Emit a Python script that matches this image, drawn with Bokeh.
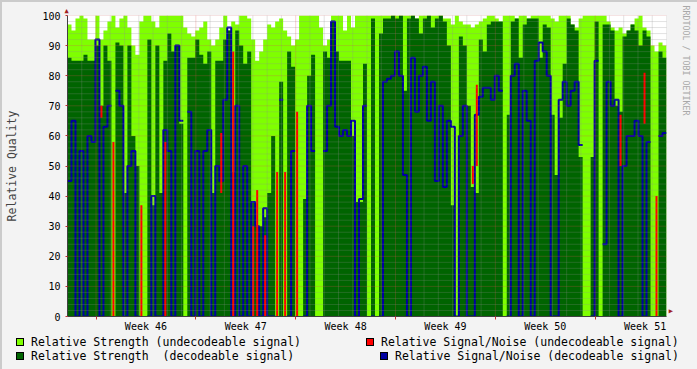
import numpy as np
from bokeh.plotting import figure
from bokeh.models import Range1d, FixedTicker, Title, Div
from bokeh.layouts import column
from bokeh.embed import file_html
from bokeh.resources import INLINE

# ---------------- data (one value per time step) -------------
strength_undecodeable = [
    97, 95, 99, 100, 99, 92, 92, 100, 92, 95, 98, 100, 96, 99, 100, 96, 90, 87, 98, 100, 100, 98, 96, 100, 100,
    100, 100, 100, 100, 96, 94, 93, 95, 96, 98, 92, 90, 92, 96, 100, 95, 98, 97, 100, 100, 99, 92, 85, 88, 92,
    97, 96, 98, 99, 95, 93, 90, 92, 100, 100, 100, 100, 100, 96, 90, 92, 100, 100, 100, 95, 100, 96, 100, 100, 100,
    100, 100, 100, 100, 100, 100, 100, 100, 100, 100, 100, 100, 99, 100, 100, 100, 100, 100, 100, 99, 99, 97, 100, 98, 97,
    97, 96, 97, 98, 99, 100, 100, 99, 98, 100, 100, 100, 99, 100, 100, 99, 100, 100, 100, 100, 100, 99, 98, 100, 100,
    100, 97, 96, 99, 100, 100, 100, 100, 100, 100, 98, 96, 95, 96, 94, 95, 97, 99, 100, 96, 95, 90, 88, 91, 90,
]
strength_decodeable = [
    86, 85, 85, 85, 87, 85, 85, 90, 70, 90, 85, 0, 91, 90, 41, 90, 60, 50, 0, 0, 92, 37, 90, 41, 85,
    94, 88, 90, 64, 0, 86, 86, 92, 87, 84, 88, 41, 85, 85, 92, 95, 48, 95, 90, 84, 88, 38, 30, 30, 33,
    41, 60, 0, 78, 0, 88, 83, 0, 0, 39, 80, 87, 0, 0, 88, 86, 98, 88, 85, 85, 85, 60, 38, 38, 84,
    0, 99, 0, 94, 99, 99, 100, 99, 100, 75, 99, 100, 99, 94, 99, 100, 96, 99, 100, 98, 90, 37, 0, 93, 90,
    70, 43, 41, 92, 88, 97, 98, 98, 98, 0, 67, 98, 99, 86, 97, 99, 99, 99, 86, 97, 96, 67, 47, 66, 84,
    99, 97, 95, 53, 0, 0, 53, 98, 0, 97, 97, 95, 70, 68, 93, 95, 97, 95, 90, 95, 93, 0, 0, 88, 86,
]
snr_decodeable = [
    45, 65, 0, 55, 0, 60, 58, 92, 0, 63, 70, None, 75, 70, 0, 50, 55, 0, None, None, 0, 40, 0, 0, 62,
    55, 0, 90, 65, None, 68, 0, 55, 0, 55, 62, 0, 50, 45, 72, 96, 0, 70, 0, 50, 0, 38, 30, 0, 36,
    0, 0, None, 72, None, 0, 55, None, None, 0, 70, 55, None, None, 55, 70, 98, 63, 60, 62, 60, 65, 0, 39, 70,
    None, 0, None, 0, 78, 79, 80, 88, 80, 47, 0, 86, 68, 80, 83, 65, 78, 45, 70, 43, 65, 63, 0, 60, 70,
    0, 0, 67, 73, 76, 76, 72, 80, 75, None, 0, 80, 84, 0, 75, 65, 0, 85, 91, 88, 80, 0, 0, 72, 78,
    70, 75, 78, 57, None, None, 0, 85, None, 24, 78, 70, 72, 0, 50, 60, 60, 65, 60, 0, 58, None, None, 60, 61,
]
snr_undec_step = [8, 11, 18, 24, 38, 41, 46, 47, 49, 52, 54, 57, 101, 102, 138, 144, 147]
snr_undec_high = [70, 58, 37, 58, 61, 88, 30, 42, 27, 48, 48, 68, 50, 77, 67, 81, 40]
snr_undec_low = [66, 0, 0, 0, 41, 0, 0, 0, 0, 0, 0, 0, 44, 50, 50, 64, 0]

week_labels = ["Week 46", "Week 47", "Week 48", "Week 49", "Week 50", "Week 51"]
week_start_day = [2, 9, 16, 23, 30, 37]
span_days = 42
y_ticks = [0, 10, 20, 30, 40, 50, 60, 70, 80, 90, 100]
legend_labels = ["Relative Strength (undecodeable signal)", "Relative Strength  (decodeable signal)",
                 "Relative Signal/Noise (undecodeable signal)", "Relative Signal/Noise (decodeable signal)"]

# ---------------- styling ----------------
MONO = "DejaVu Sans Mono"
LIME = "#7fff00"
DGREEN = "#006400"
RED = "#ff0000"
BLUE = "#0000a0"
BACK = "#f3f3f3"
FIG_W, FIG_H = 693, 334

N = len(strength_decodeable)
step = span_days / N
edges = np.arange(N + 1) * step
centers = (np.arange(N) + 0.5) * step

p = figure(width=FIG_W, height=FIG_H, x_range=Range1d(0, span_days), y_range=Range1d(0, 100),
           output_backend="svg", toolbar_location=None,
           min_border_left=65, min_border_right=28, min_border_top=13, min_border_bottom=20,
           background_fill_color="white", border_fill_color=BACK, outline_line_color=None)
p.grid.visible = False

xa = np.repeat(edges, 2)[1:-1]
p.varea(x=xa, y1=0, y2=np.repeat(np.array(strength_undecodeable, float), 2), fill_color=LIME)
p.varea(x=xa, y1=0, y2=np.repeat(np.array(strength_decodeable, float), 2), fill_color=DGREEN)

bx, by, cx, cy = [], [], [], []
for i, v in enumerate(snr_decodeable):
    if v is None:
        if cx:
            bx.append(cx); by.append(cy); cx, cy = [], []
        continue
    cx += [edges[i], edges[i + 1]]
    cy += [v, v]
if cx:
    bx.append(cx); by.append(cy)
p.multi_line(xs=bx, ys=by, line_color=BLUE, line_width=2)

rx = [centers[i] for i in snr_undec_step]
p.segment(x0=rx, y0=snr_undec_low, x1=rx, y1=snr_undec_high, line_color=RED, line_width=2)

# grid drawn over the data
days = [d for d in range(span_days + 1) if d not in week_start_day]
minor_y = [v for v in range(0, 101, 2) if v not in y_ticks]
p.segment(x0=days, y0=0, x1=days, y1=100, line_color="#909090", line_alpha=0.5, line_dash="1 1")
p.segment(x0=0, y0=minor_y, x1=span_days, y1=minor_y, line_color="#909090", line_alpha=0.5, line_dash="1 1")
p.segment(x0=week_start_day, y0=0, x1=week_start_day, y1=100, line_color="#e05050", line_alpha=0.5,
          line_dash="1 1")
p.segment(x0=0, y0=y_ticks, x1=span_days, y1=y_ticks, line_color="#e05050", line_alpha=0.5, line_dash="1 1")

xa_ = p.xaxis[0]
xa_.ticker = FixedTicker(ticks=[d + 3.5 for d in week_start_day], minor_ticks=week_start_day)
xa_.major_label_overrides = {d + 3.5: lab for d, lab in zip(week_start_day, week_labels)}
xa_.major_tick_line_color = None
xa_.major_tick_out = 0
xa_.major_tick_in = 0
xa_.minor_tick_line_color = "#c83030"
xa_.minor_tick_out = 3
xa_.minor_tick_in = 0
xa_.major_label_standoff = 1
ya_ = p.yaxis[0]
ya_.ticker = FixedTicker(ticks=y_ticks)
ya_.major_tick_line_color = "#c83030"
ya_.major_tick_out = 2
ya_.major_tick_in = 0
ya_.minor_tick_line_color = None
ya_.major_label_standoff = 5
ya_.axis_label = "Relative Quality"
ya_.axis_label_standoff = 20
ya_.axis_label_text_font_style = "normal"
ya_.axis_label_text_font_size = "11.5px"
ya_.axis_label_text_font = MONO
for ax in (xa_, ya_):
    ax.axis_line_color = "#404040"
    ax.major_label_text_font = MONO
    ax.major_label_text_font_size = "10px"
    ax.major_label_text_color = "black"

# arrow heads at the ends of the axes
p.add_layout(Title(text="\u25b2", align="left", offset=-3, standoff=1, text_font_size="7px",
                   text_font=MONO, text_color="#a02020", text_font_style="normal"), "above")
p.add_layout(Title(text="\u25b2", align="right", offset=3, standoff=1, text_font_size="7px",
                   text_font=MONO, text_color="#a02020", text_font_style="normal"), "right")
# vertical watermark
p.add_layout(Title(text="RRDTOOL / TOBI OETIKER", align="left", offset=-10, standoff=6,
                   text_font_size="8.3px", text_font=MONO, text_color="#a8a8a8",
                   text_font_style="normal"), "right")

# legend (HTML below the plot)
legend_colors = [LIME, DGREEN, RED, BLUE]
legend_box_x = [9, 9, 359, 373]
legend_row_y = [-4, 10, -4, 10]
items = []
for lab, col, bxp, ry in zip(legend_labels, legend_colors, legend_box_x, legend_row_y):
    items.append(
        f'<span style="position:absolute;left:{bxp}px;top:{ry + 1}px;width:8px;height:8px;'
        f'box-sizing:border-box;background:{col};border:1px solid #000;"></span>'
        f'<span style="position:absolute;left:{bxp + 15}px;top:{ry}px;line-height:10px;'
        f'white-space:pre;">{lab}</span>')
legend_div = Div(
    text=f'<div style="position:relative;width:693px;height:31px;font-family:\'{MONO}\';'
         f'font-size:11.5px;color:#000;">' + "".join(items) + '</div>',
    width=FIG_W, height=31, styles={"background-color": BACK, "overflow": "visible"})

layout = column(p, legend_div, spacing=0,
                styles={"border-style": "solid", "border-width": "2px",
                        "border-color": "#cbcbcb #999999 #999999 #cbcbcb",
                        "background-color": BACK})

open("out.html", "w").write(file_html(layout, INLINE))
